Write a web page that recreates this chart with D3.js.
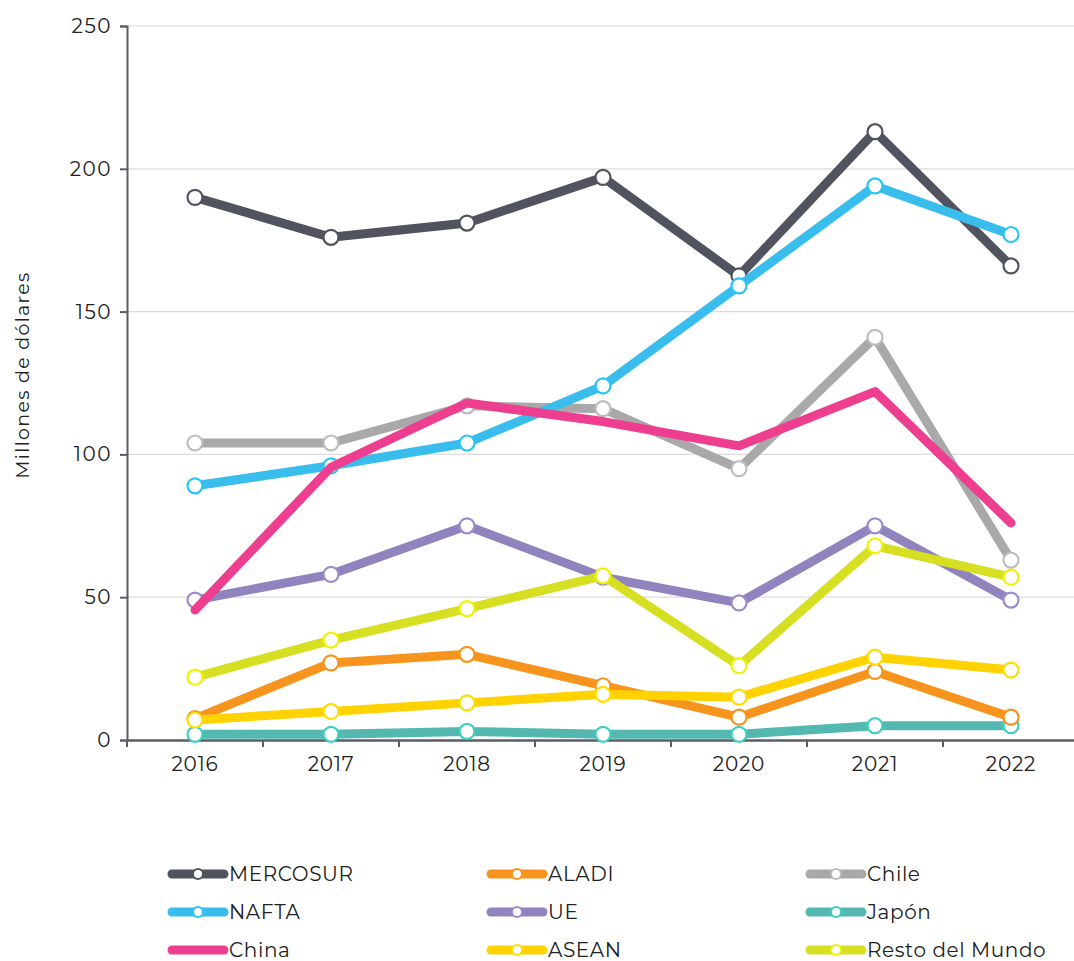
<!DOCTYPE html>
<html><head><meta charset="utf-8">
<script src="https://cdn.jsdelivr.net/npm/d3@7"></script>
<style>body{margin:0;background:#fff}svg{display:block;font-family:Montserrat,"Noto Sans",Lato,sans-serif}</style>
</head><body><svg id="c" width="1074" height="961"></svg>
<script>
const years = ["2016","2017","2018","2019","2020","2021","2022"];
const seriesNames = ["MERCOSUR","ALADI","Chile","NAFTA","UE","Japón","China","ASEAN","Resto del Mundo"];
const lineColors = ["#51535e","#f7941d","#a9a9a9","#39bded","#9184be","#52b8b0","#ee3e8f","#ffd200","#d7df23"];
const markerColors = ["#51535e","#f7941d","#bdbdbd","#29c5f6","#9d8bd0","#3fcfc2",null,"#ffdd00","#f2f200"];
const mercosur = [190,176,181,197,162.5,213,166];
const aladi = [7.5,27,30,19,8,24,8];
const chile = [104,104,117,116,95,141,63];
const nafta = [89,96,104,124,159,194,177];
const ue = [49,58,75,57,48,75,49];
const japon = [2,2,3,2,2,5,5];
const china = [45.5,95.5,118,111.5,103,122,76];
const asean = [7,10,13,16,15,29,24.5];
const resto = [22,35,46,57.5,26,68,57];
const yTicks = [0,50,100,150,200,250];
const allValues = [mercosur,aladi,chile,nafta,ue,japon,china,asean,resto];
const drawOrder = [0,2,3,4,5,8,1,7,6];

const svg = d3.select("#c");
const x = d3.scaleBand().domain(years).range([127,1079]);
const y = d3.scaleLinear().domain([0,250]).range([740,26]);
const axisColor = "#5a5d66";
const txtFont = "Montserrat,'Noto Sans',sans-serif";

svg.append("g").selectAll("line").data(yTicks.filter(d=>d>0)).join("line")
  .attr("x1",127).attr("x2",1074).attr("y1",d=>y(d)).attr("y2",d=>y(d))
  .attr("stroke","#dcdcdc").attr("stroke-width",1.2);

const ya = svg.append("g").attr("transform","translate(127,0)")
  .call(d3.axisLeft(y).tickValues(yTicks).tickSize(7).tickPadding(8));
ya.select(".domain").attr("stroke",axisColor).attr("stroke-width",2);
ya.selectAll(".tick line").attr("stroke",axisColor).attr("stroke-width",2);
ya.selectAll("text").attr("font-size",20).attr("letter-spacing","1.5px").attr("fill","#222").attr("font-family",txtFont);

const xa = svg.append("g").attr("transform","translate(0,740)")
  .call(d3.axisBottom(x).tickSize(0).tickPadding(17));
xa.select(".domain").attr("stroke",axisColor).attr("stroke-width",2.5);
xa.selectAll("text").attr("font-size",20).attr("letter-spacing","0.8px").attr("fill","#222").attr("font-family",txtFont);
xa.selectAll(".bt").data(d3.range(years.length)).join("line")
  .attr("x1",i=>127+i*x.step()).attr("x2",i=>127+i*x.step()).attr("y1",0).attr("y2",7)
  .attr("stroke",axisColor).attr("stroke-width",2);

svg.append("text").attr("transform","translate(29,375) rotate(-90)").attr("text-anchor","middle")
  .attr("font-size",19).attr("letter-spacing","1.3px").attr("fill","#222").text("Millones de dólares");

const line = d3.line().x((d,i)=>x(years[i])+x.bandwidth()/2).y(d=>y(d));
const plot = svg.append("g");
drawOrder.forEach(k=>{
  const g = plot.append("g");
  g.append("path").datum(allValues[k]).attr("d",line).attr("fill","none")
    .attr("stroke",lineColors[k]).attr("stroke-width",9).attr("stroke-linejoin","round").attr("stroke-linecap","round");
  if (markerColors[k]) {
    g.selectAll("circle").data(allValues[k]).join("circle")
      .attr("cx",(d,i)=>x(years[i])+x.bandwidth()/2).attr("cy",d=>y(d)).attr("r",7.5)
      .attr("fill","#fff").attr("stroke",markerColors[k]).attr("stroke-width",2.2);
  }
});

const colX = [168,487,806], rowY = [874,912,950];
seriesNames.forEach((n,k)=>{
  const lx = colX[k%3], ly = rowY[Math.floor(k/3)];
  const g = svg.append("g").attr("transform",`translate(${lx},${ly})`);
  g.append("line").attr("x1",4).attr("x2",56).attr("y1",0).attr("y2",0)
    .attr("stroke",lineColors[k]).attr("stroke-width",9).attr("stroke-linecap","round");
  if (markerColors[k]) g.append("circle").attr("cx",30).attr("cy",0).attr("r",5)
    .attr("fill","#fff").attr("stroke",markerColors[k]).attr("stroke-width",2);
  g.append("text").attr("x",61).attr("y",0).attr("dy","0.35em").attr("font-size",20).attr("letter-spacing","0.6px").attr("fill","#222").text(n);
});
</script></body></html>
